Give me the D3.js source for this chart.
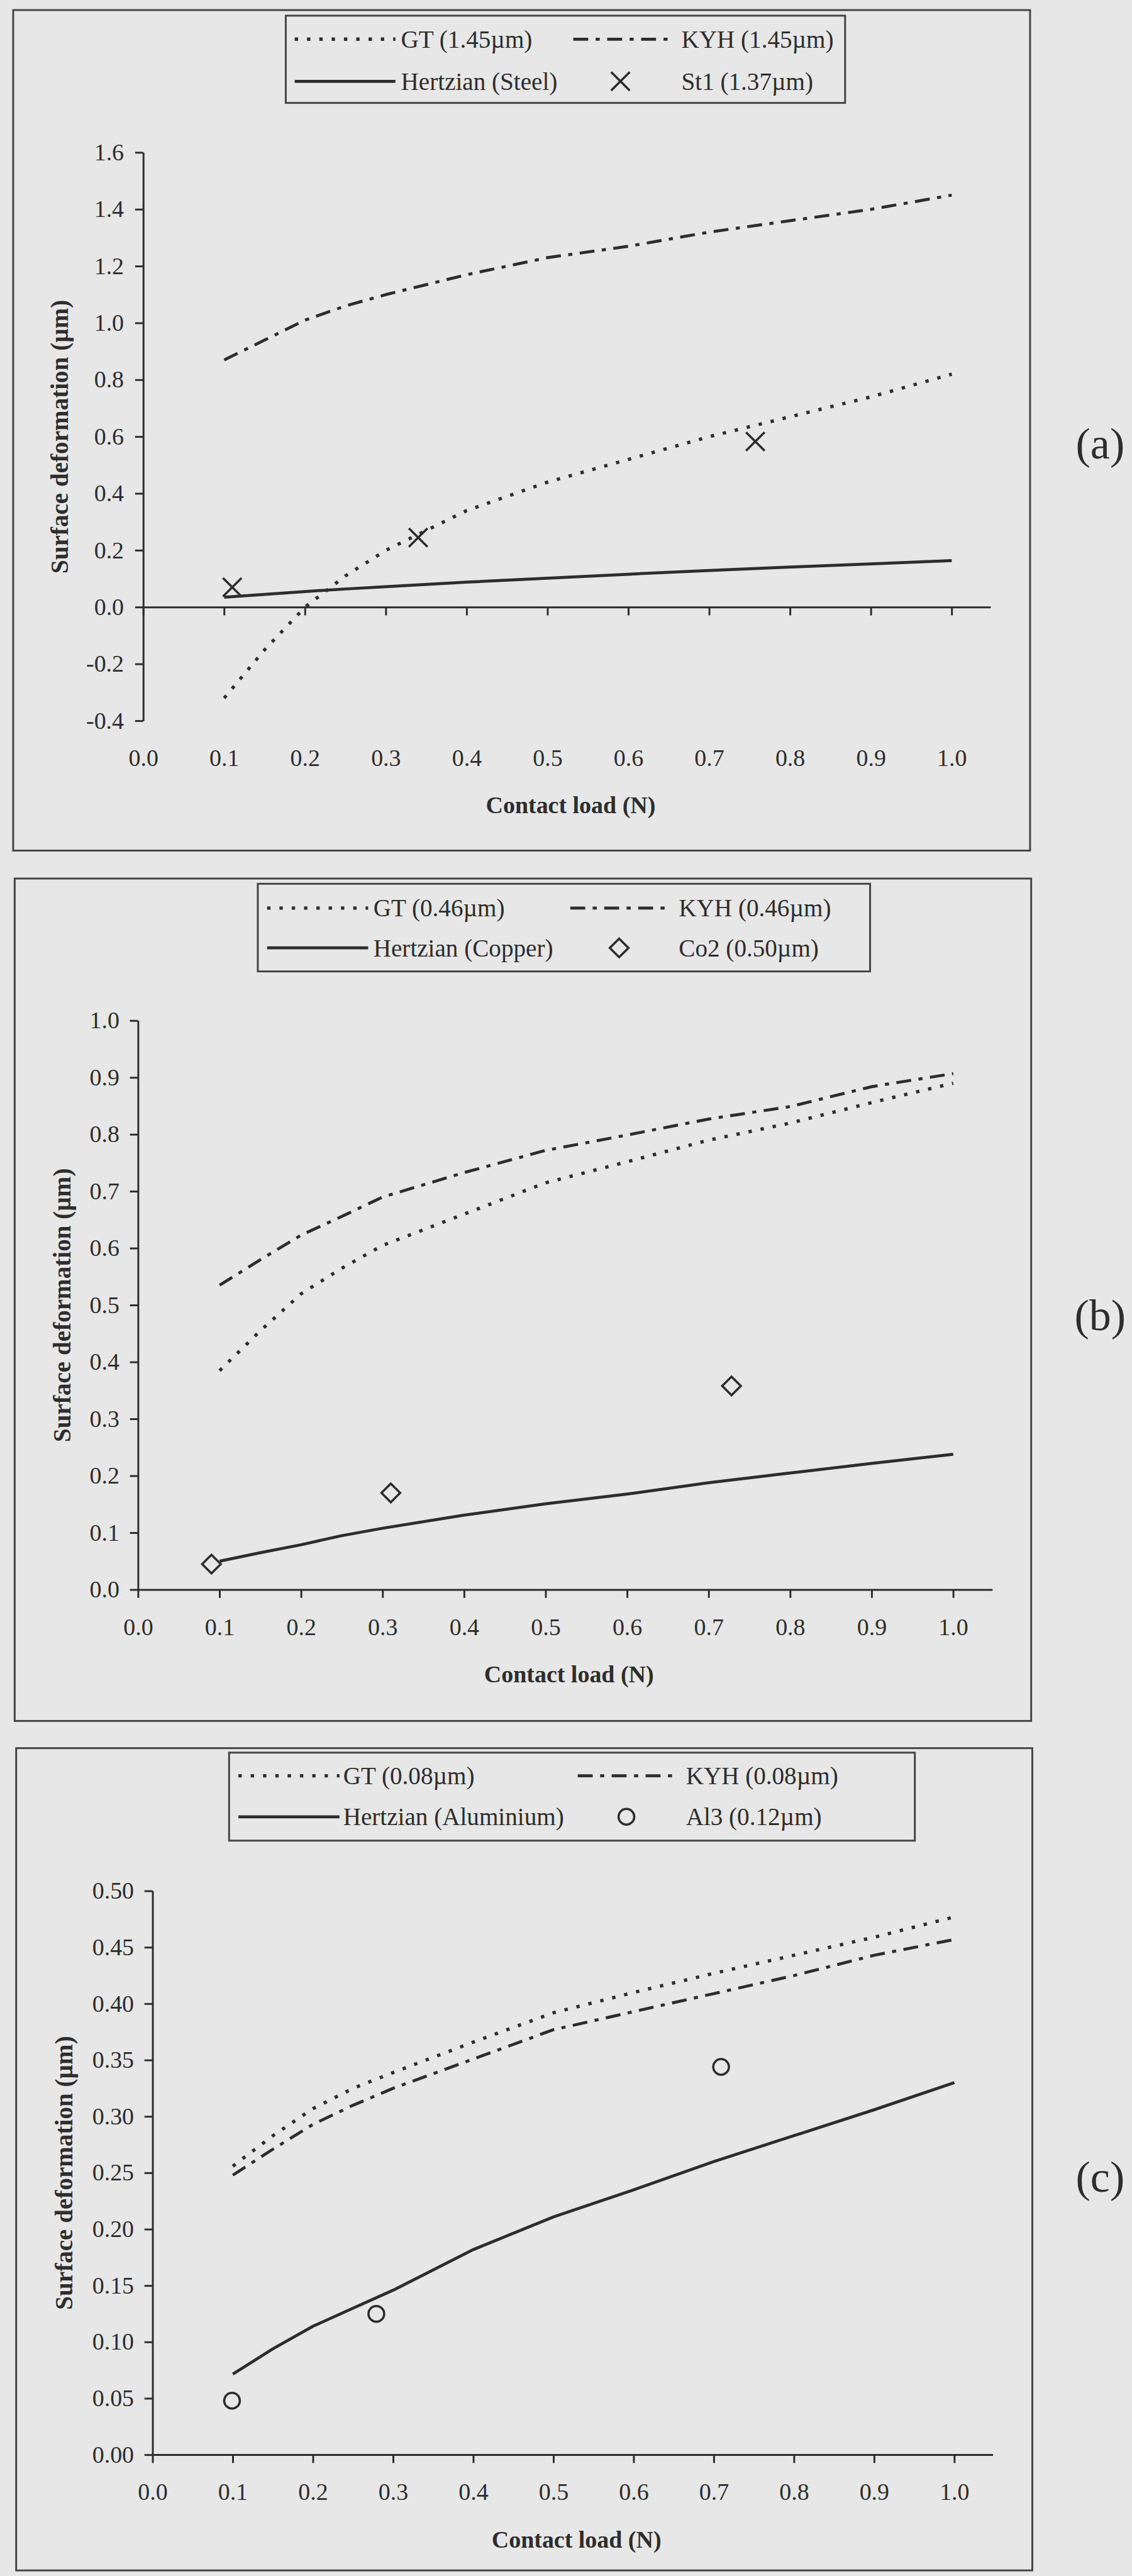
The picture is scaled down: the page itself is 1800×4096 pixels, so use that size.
<!DOCTYPE html>
<html><head><meta charset="utf-8">
<script src="https://cdn.jsdelivr.net/npm/d3@7"></script>
<style>html,body{margin:0;padding:0;background:#e7e7e7;} svg{display:block;}</style>
</head><body><div id="chart"></div>
<script>
// ---------------- data ----------------
const xTicks = [0,0.1,0.2,0.3,0.4,0.5,0.6,0.7,0.8,0.9,1.0];
const xTickLabels = ["0.0","0.1","0.2","0.3","0.4","0.5","0.6","0.7","0.8","0.9","1.0"];

const loads = [0.1,0.15,0.2,0.25,0.3,0.4,0.5,0.6,0.7,0.8,0.9,1.0];

// Panel (a) Steel
const gtA  = [-0.32,-0.15,0.00,0.11,0.20,0.34,0.44,0.52,0.60,0.67,0.74,0.82];
const kyhA = [0.87,0.94,1.01,1.06,1.10,1.17,1.23,1.27,1.32,1.36,1.40,1.45];
const hzA  = [0.035,0.045,0.055,0.064,0.072,0.088,0.102,0.116,0.129,0.141,0.152,0.164];
const st1Load = [0.11,0.34,0.757];
const st1Def  = [0.07,0.245,0.583];
const yTicksA = [-0.4,-0.2,0,0.2,0.4,0.6,0.8,1.0,1.2,1.4,1.6];
const yTickLabelsA = ["-0.4","-0.2","0.0","0.2","0.4","0.6","0.8","1.0","1.2","1.4","1.6"];
const legendA = ["GT (1.45\u00b5m)","KYH (1.45\u00b5m)","Hertzian (Steel)","St1 (1.37\u00b5m)"];

// Panel (b) Copper
const gtB  = [0.385,0.455,0.52,0.565,0.605,0.66,0.715,0.752,0.79,0.82,0.856,0.89];
const kyhB = [0.535,0.58,0.623,0.656,0.69,0.733,0.772,0.799,0.827,0.849,0.884,0.907];
const hzB  = [0.05,0.065,0.079,0.095,0.108,0.131,0.151,0.168,0.188,0.205,0.222,0.238];
const co2Load = [0.09,0.31,0.728];
const co2Def  = [0.045,0.17,0.358];
const yTicksB = [0,0.1,0.2,0.3,0.4,0.5,0.6,0.7,0.8,0.9,1.0];
const yTickLabelsB = ["0.0","0.1","0.2","0.3","0.4","0.5","0.6","0.7","0.8","0.9","1.0"];
const legendB = ["GT (0.46\u00b5m)","KYH (0.46\u00b5m)","Hertzian (Copper)","Co2 (0.50\u00b5m)"];

// Panel (c) Aluminium
const gtC  = [0.256,0.283,0.307,0.325,0.339,0.366,0.392,0.41,0.427,0.443,0.459,0.477];
const kyhC = [0.248,0.271,0.293,0.31,0.325,0.351,0.377,0.393,0.409,0.425,0.443,0.457];
const hzC  = [0.0716,0.094,0.114,0.13,0.146,0.182,0.211,0.235,0.26,0.283,0.306,0.33];
const al3Load = [0.099,0.279,0.709];
const al3Def  = [0.048,0.125,0.344];
const yTicksC = [0,0.05,0.1,0.15,0.2,0.25,0.3,0.35,0.4,0.45,0.5];
const yTickLabelsC = ["0.00","0.05","0.10","0.15","0.20","0.25","0.30","0.35","0.40","0.45","0.50"];
const legendC = ["GT (0.08\u00b5m)","KYH (0.08\u00b5m)","Hertzian (Aluminium)","Al3 (0.12\u00b5m)"];

const xTitle = "Contact load (N)";
const yTitle = "Surface deformation (\u00b5m)";
const tags = ["(a)","(b)","(c)"];

// ---------------- layout (reference pixel space) ----------------
const W = 3035, H = 6908;
const INK = "#2d2d2d";
const BG = "#e7e7e7";
const FONT = "'Liberation Serif','Times New Roman',Times,serif";
const X_END = 1.048;

const panels = [
  {frame:[35,27,2762,2281], x0:384, x1:2552, yTop:409, yBot:1933, yDomain:[-0.4,1.6],
   yTicks:yTicksA, yLabels:yTickLabelsA, yTitleX:158, tagY:1188, yPad:30,
   legend:{box:[766,42,1500,234], s1:[790,1060], t1:1075, s2:[1537,1790], t2:1827, rows:[105,218]},
   gt:gtA, kyh:kyhA, hz:hzA, mLoad:st1Load, mDef:st1Def, labels:legendA, marker:"x", tag:tags[0]},
  {frame:[39,2356,2765,4615], x0:370, x1:2556, yTop:2737, yBot:4263, yDomain:[0,1.0],
   yTicks:yTicksB, yLabels:yTickLabelsB, yTitleX:165, tagY:3525, yPad:28,
   legend:{box:[691,2370,1642,235], s1:[716,987], t1:1001, s2:[1529,1791], t2:1820, rows:[2435,2542]},
   gt:gtB, kyh:kyhB, hz:hzB, mLoad:co2Load, mDef:co2Def, labels:legendB, marker:"diamond", tag:tags[1]},
  {frame:[43,4688,2768,6893], x0:409, x1:2559, yTop:5071, yBot:6583, yDomain:[0,0.5],
   yTicks:yTicksC, yLabels:yTickLabelsC, yTitleX:170, tagY:5837, yPad:28,
   legend:{box:[614,4700,1839,236], s1:[639,910], t1:920, s2:[1549,1810], t2:1839, rows:[4762,4872]},
   gt:gtC, kyh:kyhC, hz:hzC, mLoad:al3Load, mDef:al3Def, labels:legendC, marker:"circle", tag:tags[2]}
];

const STY = {
  gt:  {w:9, dash:"9 24", cap:"butt"},
  kyh: {w:8, dash:"40 20 11 20", cap:"butt"},
  hz:  {w:8, dash:null, cap:"butt"}
};

const svg = d3.select("#chart").append("svg")
  .attr("width",1800).attr("height",4096)
  .attr("viewBox",`0 0 ${W} ${H}`);
svg.append("rect").attr("width",W).attr("height",H).attr("fill",BG);

function markerPath(type){
  if(type==="x"){ const s=25; return `M${-s},${-s}L${s},${s}M${-s},${s}L${s},${-s}`; }
  if(type==="diamond"){ const s=25; return `M0,${-s}L${s},0L0,${s}L${-s},0Z`; }
  return d3.symbol().type(d3.symbolCircle).size(Math.PI*21*21)();
}

function styleLine(sel, st){
  sel.attr("fill","none").attr("stroke",INK).attr("stroke-width",st.w)
     .attr("stroke-linecap",st.cap).attr("stroke-linejoin","round");
  if(st.dash) sel.attr("stroke-dasharray",st.dash);
}

panels.forEach(p => {
  const g = svg.append("g");
  const [fx0,fy0,fx1,fy1] = p.frame;
  g.append("rect").attr("x",fx0).attr("y",fy0).attr("width",fx1-fx0).attr("height",fy1-fy0)
   .attr("fill","none").attr("stroke","#444").attr("stroke-width",5);

  const x = d3.scaleLinear().domain([0,X_END]).range([p.x0, p.x0+(p.x1-p.x0)*X_END]);
  const y = d3.scaleLinear().domain(p.yDomain).range([p.yBot,p.yTop]);

  // y axis
  const ya = g.append("g").attr("transform",`translate(${x(0)},0)`)
    .call(d3.axisLeft(y).tickValues(p.yTicks).tickFormat((d,i)=>p.yLabels[i])
      .tickSize(22).tickSizeOuter(0).tickPadding(p.yPad));
  // x axis line at y=0
  const xa = g.append("g").attr("transform",`translate(0,${y(0)})`)
    .call(d3.axisBottom(x).tickValues(xTicks).tickFormat("").tickSize(22).tickSizeOuter(0));
  // x tick labels at plot bottom
  const xl = g.append("g").attr("transform",`translate(0,${y(p.yDomain[0])})`)
    .call(d3.axisBottom(x).tickValues(xTicks).tickFormat((d,i)=>xTickLabels[i]).tickSize(0).tickPadding(76));
  xl.select(".domain").remove();
  [ya,xa,xl].forEach(a=>{
    a.selectAll("path,line").attr("stroke",INK).attr("stroke-width",5);
    a.selectAll("text").attr("fill",INK).attr("font-family",FONT).attr("font-size",64);
  });

  // titles
  g.append("text").attr("x",(x(0)+x(X_END))/2+10).attr("y",p.yBot+226)
    .attr("text-anchor","middle").attr("dy","0.35em")
    .attr("font-family",FONT).attr("font-weight","bold").attr("font-size",64).attr("fill",INK)
    .text(xTitle);
  g.append("text").attr("transform",`translate(${p.yTitleX},${(p.yTop+p.yBot)/2}) rotate(-90)`)
    .attr("text-anchor","middle").attr("dy","0.35em")
    .attr("font-family",FONT).attr("font-weight","bold").attr("font-size",66).attr("fill",INK)
    .text(yTitle);
  g.append("text").attr("x",2950).attr("y",p.tagY).attr("dy","0.35em").attr("text-anchor","middle")
    .attr("font-family",FONT).attr("font-size",118).attr("fill",INK).text(p.tag);

  // series
  const line = d3.line().x((d,i)=>x(loads[i])).y(d=>y(d));
  styleLine(g.append("path").attr("d",line(p.hz)), STY.hz);
  styleLine(g.append("path").attr("d",line(p.gt)), STY.gt);
  styleLine(g.append("path").attr("d",line(p.kyh)), STY.kyh);
  g.selectAll(".mk").data(p.mDef).join("path")
    .attr("transform",(d,i)=>`translate(${x(p.mLoad[i])},${y(d)})`)
    .attr("d",markerPath(p.marker))
    .attr("fill",p.marker==="x"?"none":BG).attr("stroke",INK).attr("stroke-width",6);

  // legend
  const L = p.legend;
  g.append("rect").attr("x",L.box[0]).attr("y",L.box[1]).attr("width",L.box[2]).attr("height",L.box[3])
   .attr("fill",BG).attr("stroke","#444").attr("stroke-width",5);
  const sampleLine = (xs, yy, st) => styleLine(g.append("line").attr("x1",xs[0]).attr("x2",xs[1]).attr("y1",yy).attr("y2",yy), st);
  sampleLine(L.s1, L.rows[0], STY.gt);
  sampleLine(L.s2, L.rows[0], STY.kyh);
  sampleLine(L.s1, L.rows[1], STY.hz);
  g.append("path").attr("transform",`translate(${(L.s2[0]+L.s2[1])/2},${L.rows[1]})`)
    .attr("d",markerPath(p.marker))
    .attr("fill",p.marker==="x"?"none":BG).attr("stroke",INK).attr("stroke-width",6);
  const texts = [[L.t1,L.rows[0],p.labels[0]],[L.t2,L.rows[0],p.labels[1]],[L.t1,L.rows[1],p.labels[2]],[L.t2,L.rows[1],p.labels[3]]];
  texts.forEach(t => g.append("text").attr("x",t[0]).attr("y",t[1]).attr("dy","0.35em")
    .attr("font-family",FONT).attr("font-size",66).attr("fill",INK).text(t[2]));
});
</script>
</body></html>
